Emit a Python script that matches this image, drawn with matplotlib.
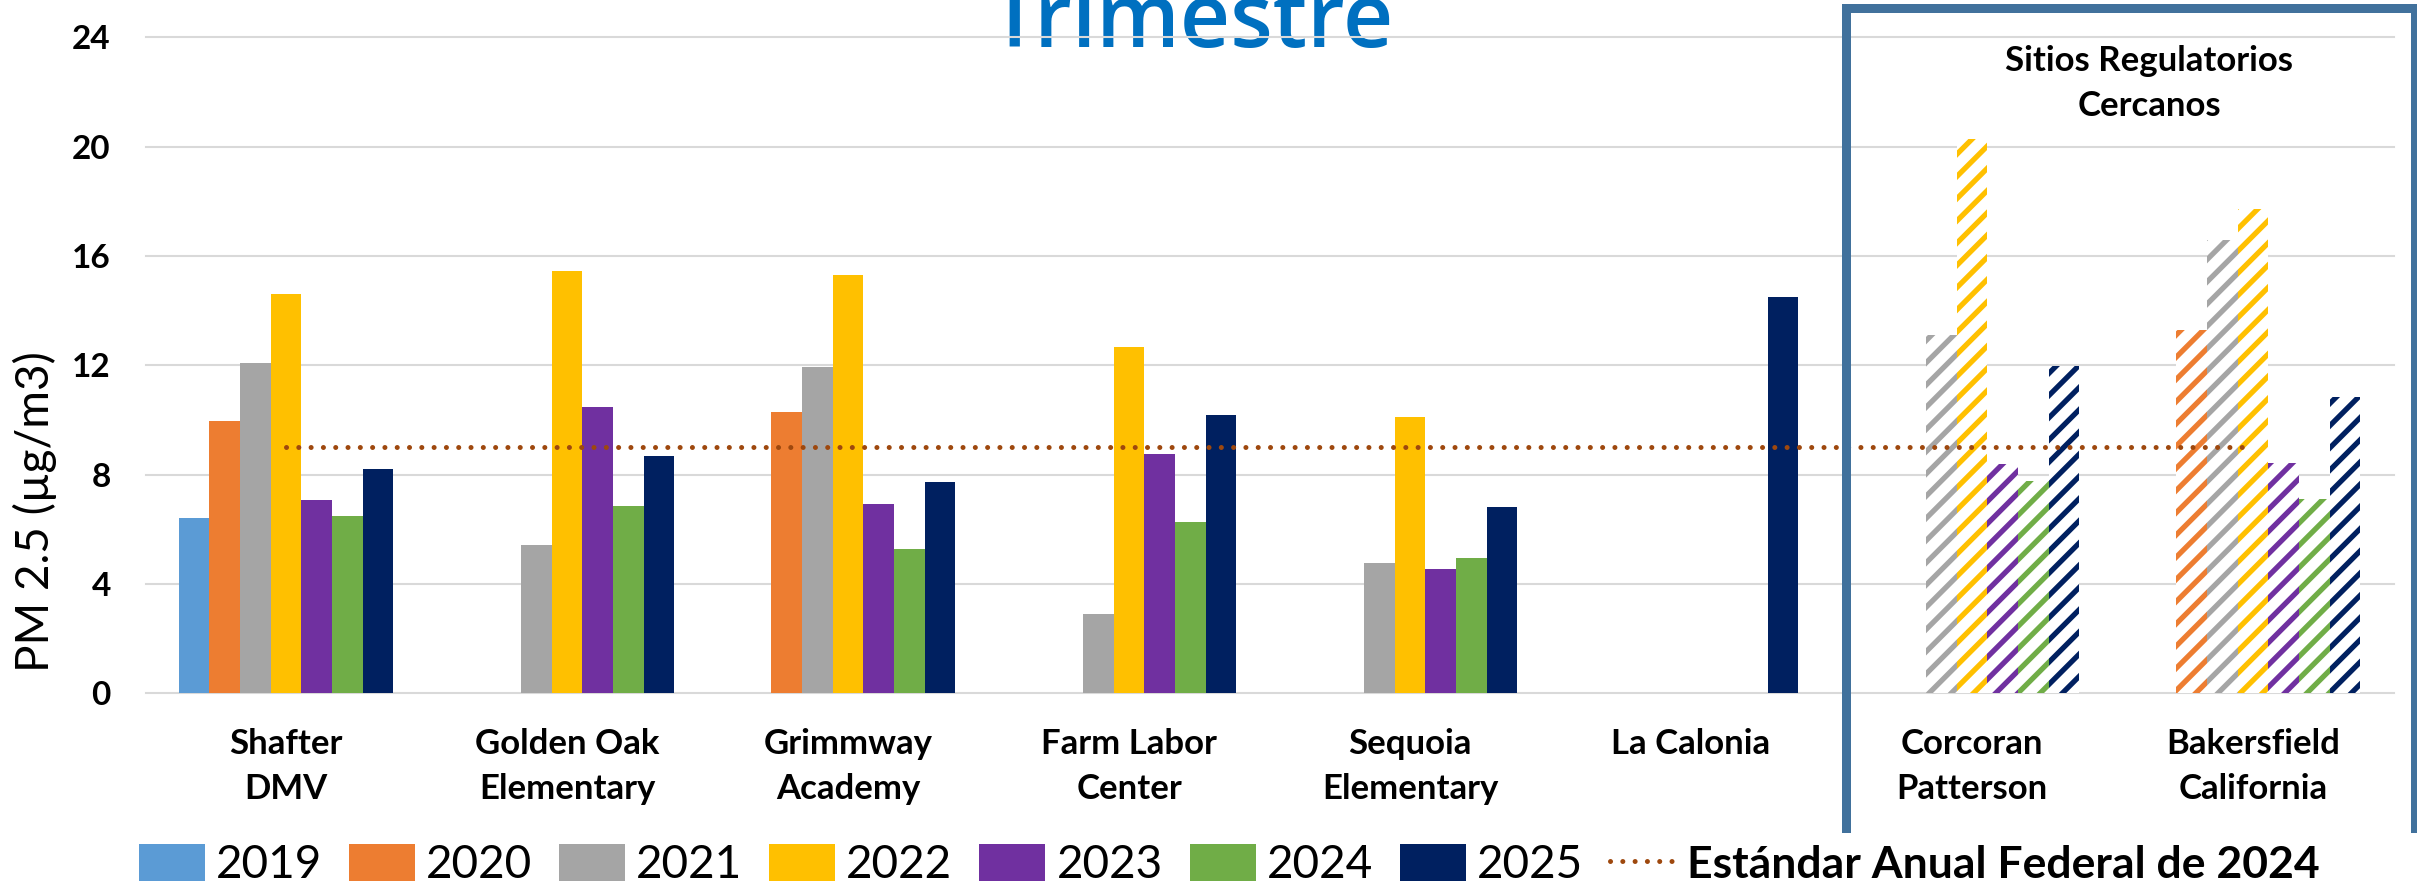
import matplotlib
matplotlib.use("Agg")
import matplotlib.pyplot as plt
from matplotlib.lines import Line2D
from matplotlib.patches import Patch
import numpy as np

nan = np.nan

sites = ["Shafter\nDMV", "Golden Oak\nElementary", "Grimmway\nAcademy", "Farm Labor\nCenter",
         "Sequoia\nElementary", "La Calonia", "Corcoran\nPatterson", "Bakersfield\nCalifornia"]
# last two sites are the nearby regulatory monitors (hatched)
regulatory = [False, False, False, False, False, False, True, True]

years = ["2019", "2020", "2021", "2022", "2023", "2024", "2025"]
pm_2019 = [6.40, nan, nan, nan, nan, nan, nan, nan]
pm_2020 = [9.98, nan, 10.30, nan, nan, nan, nan, 13.28]
pm_2021 = [12.07, 5.42, 11.95, 2.90, 4.78, nan, 13.10, 16.59]
pm_2022 = [14.62, 15.47, 15.30, 12.68, 10.12, nan, 20.28, 17.71]
pm_2023 = [7.08, 10.46, 6.94, 8.76, 4.55, nan, 8.40, 8.44]
pm_2024 = [6.50, 6.86, 5.29, 6.26, 4.95, nan, 7.76, 7.10]
pm_2025 = [8.21, 8.67, 7.74, 10.18, 6.83, 14.50, 11.96, 10.84]

standard_label = "Estándar Anual Federal de 2024"
standard_2024 = [9.0, 9.0, 9.0, 9.0, 9.0, 9.0, 9.0, 9.0]

colors = ['#5b9bd5', '#ed7d31', '#a5a5a5', '#ffc000', '#7030a0', '#70ad47', '#002060']
std_color = '#9e480e'
box_color = '#41719c'

plt.rcParams['font.family'] = ['Lato', 'DejaVu Sans']
plt.rcParams['hatch.linewidth'] = 1.9

W, H = 2417, 882
DPI = 200
fig = plt.figure(figsize=(W / DPI, H / DPI), dpi=DPI)
ax = fig.add_axes([145.5 / W, 1 - 693.4 / H, (2393.5 - 145.5) / W, (693.4 - 37.4) / H])
ax.set_facecolor('none')

x = np.arange(len(sites))
bw = 0.109
reg = np.array(regulatory)
series = [pm_2019, pm_2020, pm_2021, pm_2022, pm_2023, pm_2024, pm_2025]
for i, (vals, col) in enumerate(zip(series, colors)):
    vals = np.array(vals, dtype=float)
    pos = x + (i - 3) * bw
    ax.bar(pos[~reg], vals[~reg], bw, color=col, linewidth=0, zorder=2)
    ax.bar(pos[reg], vals[reg], bw, facecolor='white', edgecolor=col,
           hatch='///', linewidth=0, zorder=2)

ax.plot(x, standard_2024, color=std_color, lw=1.8, linestyle=(0, (0.01, 2.45)),
        dash_capstyle='round', zorder=3)

ax.set_xlim(-0.5, len(sites) - 0.5)
ax.set_ylim(0, 24)
ax.set_yticks(range(0, 25, 4))
ax.set_xticks(x, sites, fontweight='bold', fontsize=12.5, linespacing=1.5)
for lbl in ax.get_yticklabels():
    lbl.set_fontweight('bold')
    lbl.set_fontsize(12)
ax.tick_params(axis='x', length=0, pad=12.5)
ax.tick_params(axis='y', length=0, pad=12.5)
ax.grid(axis='y', color='#d9d9d9', linewidth=0.75)
ax.set_axisbelow(True)
for gl in ax.get_ygridlines():
    gl.set_clip_on(False)
for s in ax.spines.values():
    s.set_visible(False)

fig.text(49.3 / W, 1 - 512 / H, "PM 2.5 (µg/m3)", rotation=90, rotation_mode='anchor',
         ha='center', va='baseline', fontsize=16.5)

# title partly cut off at the top
fig.text(1192 / W, 1 - 47.5 / H, "Trimestre", ha='center', va='baseline',
         fontsize=31.5, fontweight=600, color='#0070c0', family='Open Sans',
         zorder=-1)

fig.text(2149 / W, 1 - 44.6 / H, "Sitios Regulatorios\nCercanos", ha='center', va='top',
         fontweight='bold', fontsize=12.5, linespacing=1.5)

# frame around the regulatory sites
bx0, bx1 = 1846.2 / W, 2415 / W
by0, by1 = 1 - 828 / H, 1 - 7.8 / H
fig.add_artist(Line2D([bx0, bx0, bx1, bx1], [by0, by1, by1, by0], transform=fig.transFigure,
                      color=box_color, lw=3.24, solid_joinstyle='miter', zorder=5))

# legend sizes measured in pixels, converted to font units
leg_size = 16.5
em = leg_size * DPI / 72
handles = [Patch(facecolor=c, edgecolor='none') for c in colors]
handles.append(Line2D([], [], color=std_color, lw=1.8, linestyle=(0, (0.01, 2.45)),
                      dash_capstyle='round'))
leg = fig.legend(handles, years + [standard_label], loc='lower center',
                 bbox_to_anchor=(0.5086, 1 - 886 / H), ncol=8, frameon=False,
                 fontsize=leg_size,
                 handlelength=66 / em, handleheight=40 / em, handletextpad=11 / em,
                 columnspacing=27 / em, borderpad=0, borderaxespad=0)
leg.get_texts()[-1].set_fontweight('bold')
leg.get_texts()[-1].set_fontsize(16)

fig.savefig('out.png', dpi=DPI)
